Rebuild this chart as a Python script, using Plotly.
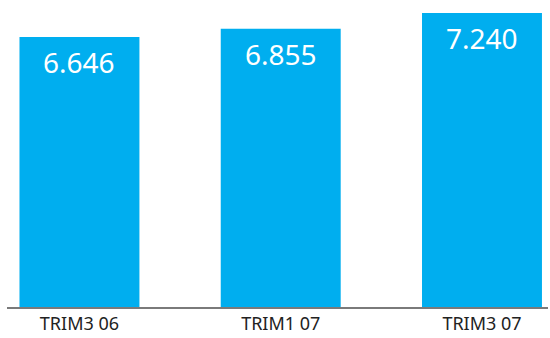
import plotly.graph_objects as go

categories = ["TRIM3 06", "TRIM1 07", "TRIM3 07"]
values = [6646, 6855, 7240]

BAR_COLOR = "#00AEEF"
FONT = "Noto Sans"

fig = go.Figure()
fig.add_trace(go.Bar(
    x=categories, y=values,
    marker=dict(color=BAR_COLOR, line=dict(width=0)),
    width=0.596,
    hoverinfo="skip",
))

for c, v in zip(categories, values):
    fig.add_annotation(
        x=c, y=v, text=f"{v:,}".replace(",", "."),
        showarrow=False, yanchor="middle", yshift=-25,
        font=dict(family=FONT, size=28, color="white"),
    )

fig.update_layout(
    width=550, height=338,
    margin=dict(l=7, r=2, t=0, b=31),
    paper_bgcolor="white", plot_bgcolor="white",
    showlegend=False,
    xaxis=dict(
        range=[-0.36, 2.328], showgrid=False, zeroline=False,
        showline=True, linecolor="#7a7a7a", linewidth=1.5,
        ticks="", ticklabelstandoff=0, automargin=False,
        tickfont=dict(family=FONT, size=18, color="#222222"),
    ),
    yaxis=dict(range=[0, 7560], visible=False, showgrid=False,
               zeroline=False, automargin=False),
)

fig.write_html("out.html")
